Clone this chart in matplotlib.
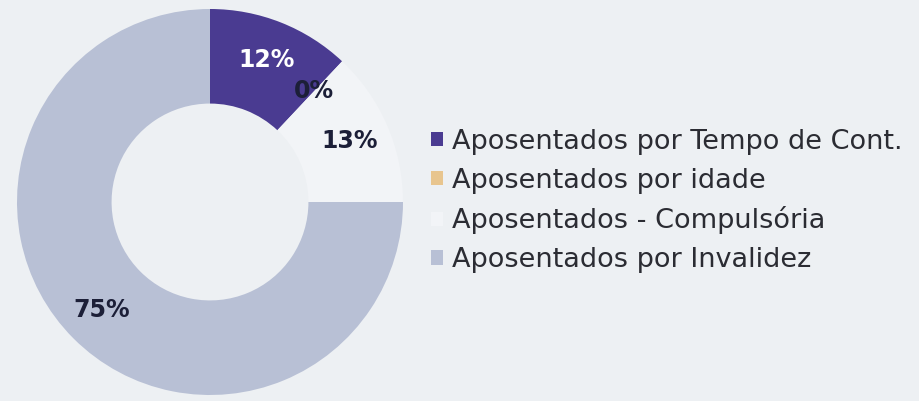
import matplotlib
matplotlib.use("Agg")
import matplotlib.pyplot as plt

# data
labels = ["Aposentados por Tempo de Cont.", "Aposentados por idade",
          "Aposentados - Compulsória", "Aposentados por Invalidez"]
values = [12, 0, 13, 75]
colors = ["#4a3b91", "#e8c58e", "#f2f4f7", "#b8c0d5"]

bg = "#edf0f3"

fig = plt.figure(figsize=(9.2, 4.01), dpi=100)
fig.patch.set_facecolor(bg)
ax = fig.add_axes([0, 0, 1, 1])
ax.set_facecolor(bg)

R = 193
cx, cy = 210, 401 - 202

wedges, texts, autotexts = ax.pie(
    values, colors=colors, startangle=90, counterclock=False,
    radius=R, center=(cx, cy), autopct="%.0f%%", pctdistance=0.79,
    wedgeprops=dict(width=R * 0.49, linewidth=0),
    textprops=dict(fontsize=17, fontweight="bold", color="#1c1f38"))
autotexts[0].set_color("white")

ax.set_xlim(0, 920)
ax.set_ylim(0, 401)
ax.set_aspect("equal")
ax.axis("off")

leg = ax.legend(wedges, labels, loc="center left",
                bbox_to_anchor=(431 / 920, 200 / 401), frameon=False,
                fontsize=19.5, handlelength=0.43, handleheight=0.43,
                handletextpad=0.33, labelspacing=0.47, borderpad=0,
                borderaxespad=0)
for t in leg.get_texts():
    t.set_color("#2b2c33")

fig.savefig("out.png", dpi=100, facecolor=bg)
